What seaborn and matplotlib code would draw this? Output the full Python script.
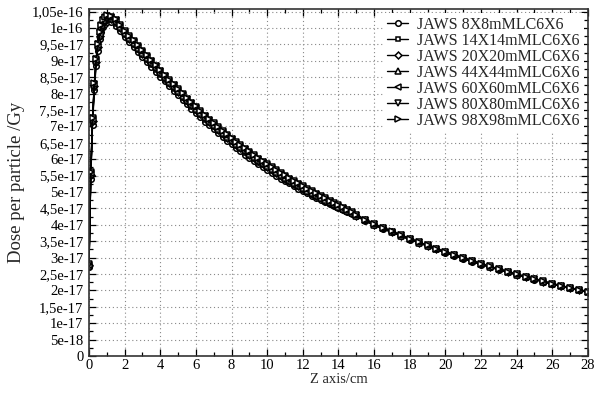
import numpy as np
import pandas as pd
import matplotlib
matplotlib.use("Agg")
import matplotlib.pyplot as plt
import seaborn as sns
from matplotlib.ticker import MultipleLocator, FuncFormatter

# depth along the beam axis (cm)
depth = [0, 0.1, 0.2, 0.3, 0.4, 0.5, 0.6, 0.7, 0.8, 0.9, 1.0,
         1.25, 1.5, 1.75, 2.0, 2.25, 2.5, 2.75, 3.0, 3.25, 3.5, 3.75, 4.0,
         4.25, 4.5, 4.75, 5.0, 5.25, 5.5, 5.75, 6.0, 6.25, 6.5, 6.75, 7.0,
         7.25, 7.5, 7.75, 8.0, 8.25, 8.5, 8.75, 9.0, 9.25, 9.5, 9.75, 10.0,
         10.25, 10.5, 10.75, 11.0, 11.25, 11.5, 11.75, 12.0, 12.25, 12.5, 12.75, 13.0,
         13.25, 13.5, 13.75, 14.0, 14.25, 14.5, 14.75, 15.0,
         15.5, 16.0, 16.5, 17.0, 17.5, 18.0, 18.5, 19.0, 19.5, 20.0, 20.5, 21.0,
         21.5, 22.0, 22.5, 23.0, 23.5, 24.0, 24.5, 25.0, 25.5, 26.0, 26.5, 27.0,
         27.5, 28.0]

# dose per particle, in units of 1e-17 Gy
dose_8 = [2.7, 5.4, 7.05, 8.1, 8.85, 9.3, 9.66, 9.88, 10.04, 10.13, 10.18,
          10.17, 10.07, 9.9, 9.72, 9.57, 9.42, 9.27, 9.12, 8.97, 8.82, 8.67, 8.52,
          8.37, 8.23, 8.09, 7.95, 7.81, 7.67, 7.54, 7.41, 7.28, 7.15, 7.03, 6.91,
          6.79, 6.67, 6.56, 6.45, 6.34, 6.24, 6.14, 6.04, 5.94, 5.84, 5.75, 5.66,
          5.58, 5.5, 5.41, 5.33, 5.26, 5.18, 5.1, 5.03, 4.96, 4.89, 4.83, 4.76,
          4.7, 4.63, 4.57, 4.5, 4.44, 4.38, 4.32, 4.26,
          4.12, 3.98, 3.88, 3.77, 3.66, 3.55, 3.45, 3.35, 3.25, 3.15, 3.06, 2.97,
          2.88, 2.79, 2.71, 2.63, 2.55, 2.47, 2.4, 2.33, 2.26, 2.19, 2.12, 2.06,
          2.0, 1.94]
dose_14 = [2.73, 5.48, 7.12, 8.18, 8.93, 9.38, 9.73, 9.95, 10.11, 10.2, 10.25,
           10.23, 10.13, 9.96, 9.78, 9.63, 9.48, 9.33, 9.18, 9.03, 8.88, 8.73, 8.58,
           8.43, 8.29, 8.15, 8.01, 7.87, 7.73, 7.6, 7.47, 7.34, 7.21, 7.09, 6.97,
           6.85, 6.73, 6.62, 6.51, 6.4, 6.3, 6.2, 6.1, 6.0, 5.9, 5.81, 5.72,
           5.63, 5.55, 5.46, 5.38, 5.3, 5.22, 5.14, 5.06, 4.99, 4.92, 4.85, 4.78,
           4.71, 4.64, 4.58, 4.51, 4.45, 4.39, 4.33, 4.26,
           4.13, 3.99, 3.88, 3.77, 3.66, 3.56, 3.46, 3.36, 3.25, 3.15, 3.06, 2.97,
           2.88, 2.79, 2.71, 2.63, 2.55, 2.48, 2.4, 2.33, 2.26, 2.19, 2.13, 2.07,
           2.01, 1.95]
dose_20 = [2.76, 5.52, 7.17, 8.22, 8.97, 9.42, 9.77, 9.99, 10.15, 10.24, 10.29,
           10.27, 10.17, 10.0, 9.82, 9.67, 9.52, 9.37, 9.22, 9.07, 8.92, 8.77, 8.62,
           8.47, 8.33, 8.19, 8.05, 7.91, 7.77, 7.64, 7.51, 7.38, 7.25, 7.13, 7.01,
           6.89, 6.77, 6.66, 6.55, 6.44, 6.34, 6.24, 6.14, 6.04, 5.94, 5.85, 5.76,
           5.67, 5.58, 5.5, 5.41, 5.33, 5.25, 5.17, 5.09, 5.02, 4.95, 4.88, 4.81,
           4.74, 4.67, 4.6, 4.53, 4.47, 4.41, 4.35, 4.28,
           4.14, 4.0, 3.89, 3.78, 3.67, 3.56, 3.46, 3.36, 3.26, 3.16, 3.07, 2.98,
           2.89, 2.8, 2.72, 2.64, 2.56, 2.48, 2.41, 2.34, 2.27, 2.2, 2.13, 2.07,
           2.01, 1.95]
dose_44 = [2.75, 5.55, 7.2, 8.25, 9.0, 9.45, 9.8, 10.02, 10.18, 10.27, 10.32,
           10.3, 10.2, 10.03, 9.85, 9.7, 9.55, 9.4, 9.25, 9.1, 8.95, 8.8, 8.65,
           8.5, 8.36, 8.22, 8.08, 7.94, 7.8, 7.67, 7.54, 7.41, 7.28, 7.16, 7.04,
           6.92, 6.8, 6.69, 6.58, 6.47, 6.37, 6.27, 6.17, 6.07, 5.97, 5.88, 5.79,
           5.7, 5.61, 5.52, 5.44, 5.36, 5.28, 5.2, 5.12, 5.04, 4.97, 4.9, 4.83,
           4.76, 4.69, 4.62, 4.55, 4.48, 4.42, 4.36, 4.28,
           4.14, 4.0, 3.89, 3.78, 3.67, 3.56, 3.46, 3.36, 3.26, 3.16, 3.07, 2.98,
           2.89, 2.8, 2.72, 2.64, 2.56, 2.48, 2.41, 2.34, 2.27, 2.2, 2.13, 2.07,
           2.01, 1.95]
dose_60 = [2.78, 5.58, 7.23, 8.28, 9.03, 9.48, 9.83, 10.05, 10.21, 10.3, 10.35,
           10.33, 10.23, 10.06, 9.88, 9.73, 9.58, 9.43, 9.28, 9.13, 8.98, 8.83, 8.68,
           8.53, 8.39, 8.25, 8.11, 7.97, 7.83, 7.7, 7.57, 7.44, 7.31, 7.19, 7.07,
           6.95, 6.83, 6.72, 6.61, 6.5, 6.4, 6.3, 6.2, 6.1, 6.0, 5.91, 5.82,
           5.73, 5.64, 5.55, 5.47, 5.39, 5.31, 5.23, 5.15, 5.07, 5.0, 4.93, 4.86,
           4.79, 4.72, 4.65, 4.57, 4.5, 4.44, 4.37, 4.29,
           4.15, 4.01, 3.9, 3.79, 3.68, 3.57, 3.47, 3.37, 3.27, 3.17, 3.08, 2.99,
           2.9, 2.81, 2.72, 2.64, 2.56, 2.49, 2.41, 2.34, 2.27, 2.2, 2.14, 2.07,
           2.01, 1.95]
dose_80 = [2.8, 5.6, 7.25, 8.3, 9.05, 9.5, 9.85, 10.07, 10.23, 10.32, 10.37,
           10.35, 10.25, 10.08, 9.9, 9.75, 9.6, 9.45, 9.3, 9.15, 9.0, 8.85, 8.7,
           8.55, 8.41, 8.27, 8.13, 7.99, 7.85, 7.72, 7.59, 7.46, 7.33, 7.21, 7.09,
           6.97, 6.85, 6.74, 6.63, 6.52, 6.42, 6.32, 6.22, 6.12, 6.02, 5.93, 5.84,
           5.75, 5.66, 5.57, 5.49, 5.41, 5.33, 5.25, 5.17, 5.09, 5.02, 4.95, 4.88,
           4.81, 4.73, 4.66, 4.59, 4.52, 4.45, 4.38, 4.3,
           4.16, 4.01, 3.9, 3.79, 3.68, 3.57, 3.47, 3.37, 3.27, 3.17, 3.08, 2.99,
           2.9, 2.81, 2.73, 2.65, 2.57, 2.49, 2.42, 2.35, 2.28, 2.21, 2.14, 2.08,
           2.02, 1.96]
dose_98 = [2.81, 5.62, 7.27, 8.32, 9.07, 9.52, 9.87, 10.09, 10.25, 10.34, 10.39,
           10.37, 10.27, 10.1, 9.92, 9.77, 9.62, 9.47, 9.32, 9.17, 9.02, 8.87, 8.72,
           8.57, 8.43, 8.29, 8.15, 8.01, 7.87, 7.74, 7.61, 7.48, 7.35, 7.23, 7.11,
           6.99, 6.87, 6.76, 6.65, 6.54, 6.44, 6.34, 6.24, 6.14, 6.04, 5.95, 5.86,
           5.77, 5.68, 5.59, 5.51, 5.42, 5.34, 5.26, 5.18, 5.1, 5.03, 4.96, 4.89,
           4.82, 4.74, 4.67, 4.6, 4.53, 4.46, 4.39, 4.31,
           4.16, 4.02, 3.91, 3.8, 3.69, 3.58, 3.47, 3.37, 3.27, 3.17, 3.08, 2.99,
           2.9, 2.81, 2.73, 2.65, 2.57, 2.49, 2.42, 2.35, 2.28, 2.21, 2.14, 2.08,
           2.02, 1.96]

labels = ["JAWS 8X8mMLC6X6", "JAWS 14X14mMLC6X6", "JAWS 20X20mMLC6X6",
          "JAWS 44X44mMLC6X6", "JAWS 60X60mMLC6X6", "JAWS 80X80mMLC6X6",
          "JAWS 98X98mMLC6X6"]
series = [dose_8, dose_14, dose_20, dose_44, dose_60, dose_80, dose_98]
markers = ["o", "s", "D", "^", "<", "v", ">"]
msizes = [4, 3.5, 3.5, 4, 4, 4, 4]

sns.set_style("ticks")
plt.rcParams["font.family"] = ["Liberation Serif", "DejaVu Serif"]

fig = plt.figure(figsize=(5.96, 3.93), dpi=100)
ax = fig.add_axes([0.1493, 0.0941, 0.8372, 0.8830])

for lab, vals, mk, ms in zip(labels, series, markers, msizes):
    df = pd.DataFrame({"z": depth, "dose": np.array(vals) * 1e-17})
    sns.lineplot(data=df, x="z", y="dose", ax=ax, color="black", lw=1.0,
                 marker=mk, markersize=ms, markerfacecolor="white",
                 markeredgecolor="black", markeredgewidth=1.1, label=lab)

ax.set_xlim(0, 28)
ax.set_ylim(0, 1.058e-16)
ax.xaxis.set_major_locator(MultipleLocator(2))
ax.xaxis.set_minor_locator(MultipleLocator(1))
ax.yaxis.set_major_locator(MultipleLocator(5e-18))
ax.yaxis.set_minor_locator(MultipleLocator(2.5e-18))


def sci_comma(v, pos):
    if abs(v) < 1e-30:
        return "0"
    if v < 0:
        return ""
    e = int(np.floor(np.log10(v) + 1e-9))
    m = round(v / 10 ** e, 2)
    ms = ("%.2f" % m).rstrip("0").rstrip(".").replace(".", ",")
    return "%se%d" % (ms, e)


ax.yaxis.set_major_formatter(FuncFormatter(sci_comma))
ax.yaxis.offsetText.set_visible(False)

ax.tick_params(which="both", direction="in", top=True, right=True,
               labelsize=10.5, colors="black")
ax.tick_params(axis="y", pad=4)
ax.tick_params(axis="x", pad=2)
ax.tick_params(which="major", length=5, width=0.9)
ax.tick_params(which="minor", length=3, width=0.9)
ax.grid(True, which="major", linestyle=(0, (1, 2.5)), color="#888888", lw=0.8)
for sp in ax.spines.values():
    sp.set_linewidth(1.2)
    sp.set_color("#333333")

ax.set_xlabel("Z axis/cm", fontsize=10.5, labelpad=1)
ax.set_ylabel("Dose per particle /Gy", fontsize=13.5, labelpad=5)

leg = ax.legend(loc="upper right", bbox_to_anchor=(1.0, 1.0), fontsize=11.5,
                frameon=True, fancybox=False, edgecolor="none",
                facecolor="white", framealpha=1.0, handlelength=1.3,
                labelspacing=0.0, handletextpad=0.6, borderpad=0.25,
                borderaxespad=0.25)

fig.savefig("out.png", dpi=100)
